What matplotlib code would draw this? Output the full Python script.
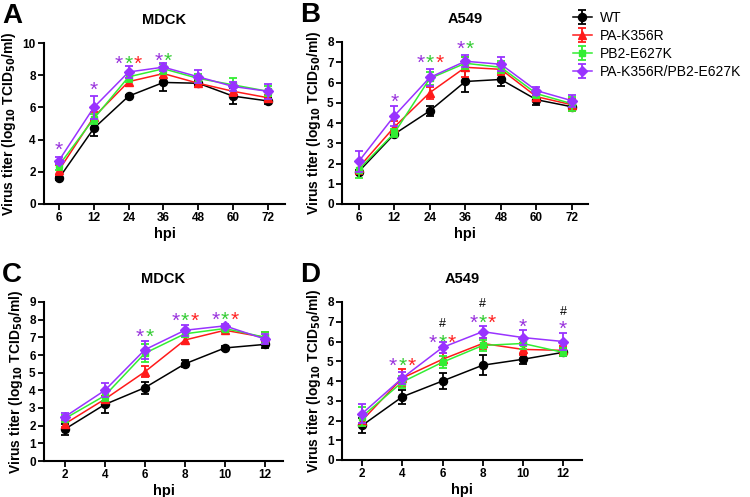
import matplotlib
matplotlib.use("Agg")
import matplotlib.pyplot as plt

plt.rcParams['font.family'] = ['Liberation Sans', 'DejaVu Sans']

series_names = ["WT", "PA-K356R", "PB2-E627K", "PA-K356R/PB2-E627K"]
series_colors = ["#000000", "#ff1a1a", "#33ee33", "#9933ff"]
series_markers = ["o", "^", "s", "D"]
star_colors = {"p": "#9933dd", "g": "#33cc33", "r": "#ff2222", "#": "#000000"}

# Panel A: MDCK, long time course
a_labels = ["6", "12", "24", "36", "48", "60", "72"]
a_wt = [1.6, 4.7, 6.7, 7.55, 7.5, 6.7, 6.4]
a_wt_err = [0.1, 0.5, 0.1, 0.55, 0.2, 0.5, 0.2]
a_pa = [2.1, 5.4, 7.6, 8.1, 7.5, 7.0, 6.6]
a_pa_err = [0.3, 0.3, 0.25, 0.3, 0.25, 0.3, 0.2]
a_pb2 = [2.4, 5.3, 7.9, 8.4, 7.8, 7.4, 7.0]
a_pb2_err = [0.3, 0.3, 0.3, 0.3, 0.3, 0.4, 0.3]
a_dbl = [2.7, 6.0, 8.2, 8.5, 7.9, 7.3, 7.0]
a_dbl_err = [0.2, 0.7, 0.4, 0.25, 0.4, 0.3, 0.45]
a_stars = [(0, 3.7, "p"), (1, 7.4, "p"), (2, 9.0, "pgr"), (3, 9.2, "pg")]

# Panel B: A549, long time course
b_labels = ["6", "12", "24", "36", "48", "60", "72"]
b_wt = [1.6, 3.45, 4.6, 6.05, 6.15, 5.15, 4.8]
b_wt_err = [0.1, 0.1, 0.25, 0.5, 0.3, 0.25, 0.2]
b_pa = [1.8, 3.8, 5.5, 6.75, 6.65, 5.3, 4.9]
b_pa_err = [0.3, 0.3, 0.3, 0.5, 0.3, 0.2, 0.3]
b_pb2 = [1.7, 3.5, 6.2, 6.95, 6.75, 5.45, 4.95]
b_pb2_err = [0.4, 0.2, 0.3, 0.3, 0.3, 0.2, 0.35]
b_dbl = [2.1, 4.35, 6.25, 7.05, 6.9, 5.6, 5.1]
b_dbl_err = [0.5, 0.5, 0.4, 0.3, 0.35, 0.2, 0.3]
b_stars = [(1, 5.3, "p"), (2, 7.2, "pgr"), (3, 7.9, "pg")]

# Panel C: MDCK, short time course
c_labels = ["2", "4", "6", "8", "10", "12"]
c_wt = [1.8, 3.2, 4.15, 5.5, 6.4, 6.6]
c_wt_err = [0.3, 0.5, 0.35, 0.2, 0.1, 0.2]
c_pa = [2.1, 3.5, 5.05, 6.85, 7.4, 7.0]
c_pa_err = [0.2, 0.2, 0.3, 0.2, 0.1, 0.3]
c_pb2 = [2.4, 3.7, 6.1, 7.2, 7.5, 7.0]
c_pb2_err = [0.2, 0.3, 0.5, 0.2, 0.15, 0.3]
c_dbl = [2.5, 4.0, 6.3, 7.4, 7.65, 6.9]
c_dbl_err = [0.2, 0.4, 0.5, 0.3, 0.1, 0.3]
c_stars = [(2, 7.3, "pg"), (3, 8.2, "pgr"), (4, 8.3, "pgr")]

# Panel D: A549, short time course
d_labels = ["2", "4", "6", "8", "10", "12"]
d_wt = [1.75, 3.2, 4.0, 4.8, 5.1, 5.45]
d_wt_err = [0.4, 0.35, 0.4, 0.5, 0.25, 0.2]
d_pa = [2.0, 4.15, 5.1, 5.9, 5.6, 5.55]
d_pa_err = [0.3, 0.45, 0.3, 0.3, 0.3, 0.2]
d_pb2 = [2.2, 3.95, 4.95, 5.8, 5.9, 5.45]
d_pb2_err = [0.5, 0.3, 0.3, 0.3, 0.3, 0.2]
d_dbl = [2.35, 4.15, 5.7, 6.5, 6.2, 6.0]
d_dbl_err = [0.5, 0.3, 0.3, 0.3, 0.4, 0.45]
d_stars = [(1, 5.0, "pgr"), (2, 6.2, "pgr"), (3, 7.2, "pgr"), (4, 7.0, "p"), (5, 6.9, "p")]
d_hash = [(2, 6.9), (3, 7.9), (5, 7.5)]

W, H = 750, 497
fig = plt.figure(figsize=(W / 100, H / 100), dpi=100)


def add_axes(l, r, t, b):
    return fig.add_axes([l / W, 1 - b / H, (r - l) / W, (b - t) / H])


panels = [
    dict(box=(44, 285, 43, 204), labels=a_labels, ys=[a_wt, a_pa, a_pb2, a_dbl],
         errs=[a_wt_err, a_pa_err, a_pb2_err, a_dbl_err], ylim=10, ystep=2,
         xlim=(-0.43, 6.49), title="MDCK", letter="A", stars=a_stars, hashes=[]),
    dict(box=(342, 588, 42, 204), labels=b_labels, ys=[b_wt, b_pa, b_pb2, b_dbl],
         errs=[b_wt_err, b_pa_err, b_pb2_err, b_dbl_err], ylim=8, ystep=1,
         xlim=(-0.47, 6.45), title="A549", letter="B", stars=b_stars, hashes=[]),
    dict(box=(44, 283, 302, 461), labels=c_labels, ys=[c_wt, c_pa, c_pb2, c_dbl],
         errs=[c_wt_err, c_pa_err, c_pb2_err, c_dbl_err], ylim=9, ystep=1,
         xlim=(-0.52, 5.45), title="MDCK", letter="C", stars=c_stars, hashes=[]),
    dict(box=(342, 582, 302, 460), labels=d_labels, ys=[d_wt, d_pa, d_pb2, d_dbl],
         errs=[d_wt_err, d_pa_err, d_pb2_err, d_dbl_err], ylim=8, ystep=1,
         xlim=(-0.5, 5.47), title="A549", letter="D", stars=d_stars, hashes=d_hash),
]

marker_sizes = {"o": 5.8, "^": 5.6, "s": 5.0, "D": 5.0}

handles = []
for p in panels:
    ax = add_axes(*p["box"])
    xs = list(range(len(p["labels"])))
    hs = []
    for i, (y, e) in enumerate(zip(p["ys"], p["errs"])):
        h = ax.errorbar(xs, y, yerr=e, color=series_colors[i], marker=series_markers[i],
                        ms=marker_sizes[series_markers[i]], lw=1.1, elinewidth=1.3,
                        capsize=3, capthick=1.3,
                        clip_on=False, zorder=3 + i, label=series_names[i])
        hs.append(h)
    if not handles:
        handles = hs
    ax.set_xlim(*p["xlim"])
    ax.set_ylim(0, p["ylim"])
    ax.set_yticks(range(0, p["ylim"] + 1, p["ystep"]))
    ax.set_xticks(xs)
    ax.set_xticklabels(p["labels"])
    for s in ["top", "right"]:
        ax.spines[s].set_visible(False)
    for s in ["left", "bottom"]:
        ax.spines[s].set_linewidth(1.5)
    ax.tick_params(direction="out", length=4, width=1.3, labelsize=8.5, pad=2)
    for t in ax.get_xticklabels() + ax.get_yticklabels():
        t.set_fontweight("bold")
    ax.set_xlabel("hpi", fontsize=10.5, fontweight="bold", labelpad=2)
    ax.set_ylabel("Virus titer (log$_{\\mathbf{10}}$ TCID$_{\\mathbf{50}}$/ml)",
                  fontsize=10, fontweight="bold", labelpad=3)
    ax.set_title(p["title"], fontsize=10.5, fontweight="bold", pad=14)
    l, r, t, b = p["box"]
    fig.text((l - 42) / W, 1 - (t - 27) / H, p["letter"], fontsize=20,
             fontweight="bold", ha="left", va="center")
    # significance asterisks
    for xi, yv, cols in p["stars"]:
        n = len(cols)
        for k, c in enumerate(cols):
            off = (k - (n - 1) / 2) * 6.8
            ax.annotate("*", (xi, yv), xytext=(off, -4), textcoords="offset points",
                        ha="center", va="center", fontsize=15,
                        color=star_colors[c], annotation_clip=False)
    for xi, yv in p["hashes"]:
        ax.annotate("#", (xi, yv), xytext=(0, 0), textcoords="offset points",
                    ha="center", va="center", fontsize=9, color="black",
                    annotation_clip=False)

fig.legend(handles, series_names, loc="upper left",
           bbox_to_anchor=(567 / W, 1 - 5 / H), frameon=False, fontsize=10,
           handlelength=1.4, handletextpad=0.55, labelspacing=0.3,
           borderaxespad=0, markerscale=1.0)

fig.savefig("out.png", dpi=100)
